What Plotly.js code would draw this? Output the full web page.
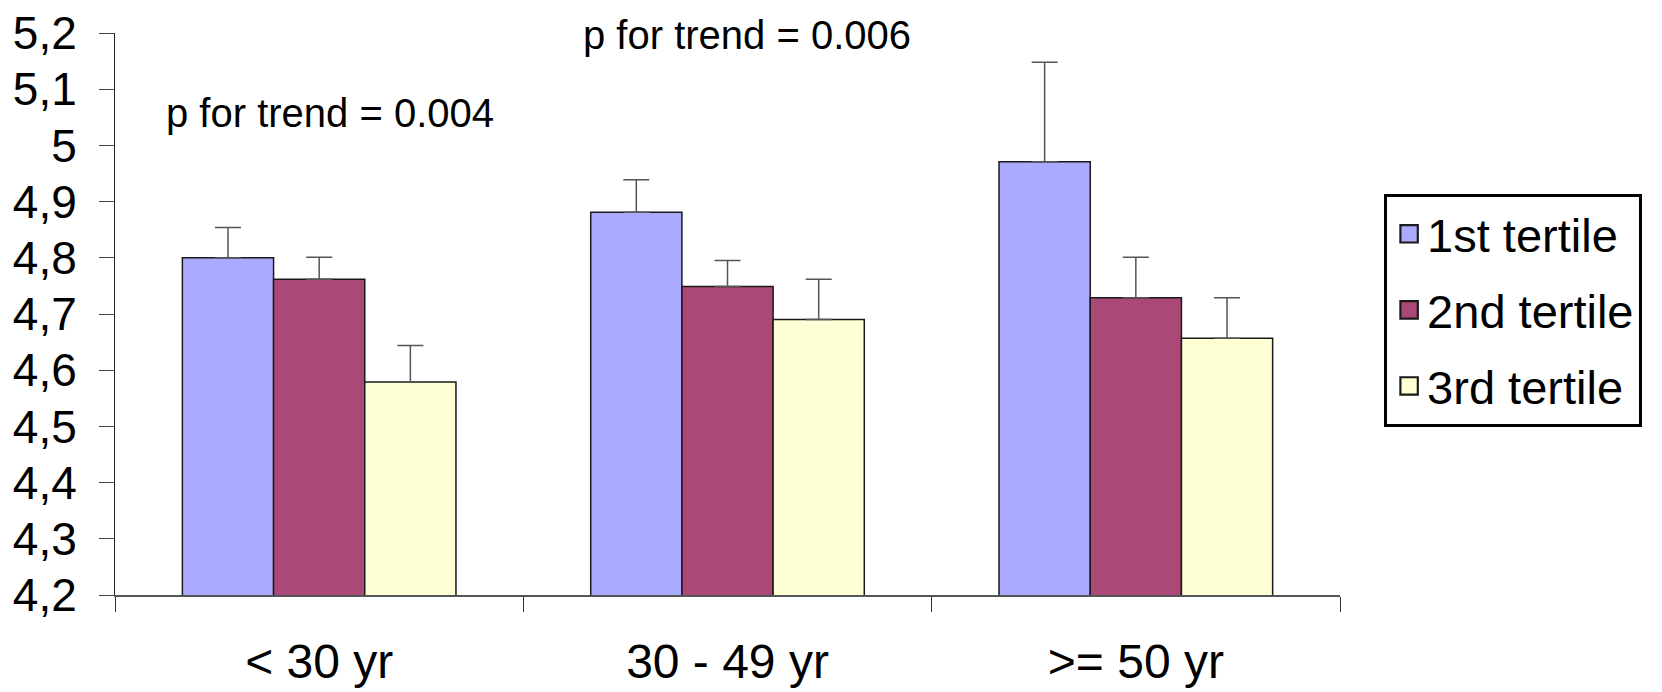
<!DOCTYPE html>
<html>
<head>
<meta charset="utf-8">
<script src="https://cdn.plot.ly/plotly-3.0.1.min.js"></script>
<style>
  html, body { margin: 0; padding: 0; background: #fff; }
  #chart { width: 1662px; height: 692px; }
</style>
</head>
<body>
<div id="chart"></div>
<script>
// ---- data ----
const categories = ['< 30 yr', '30 - 49 yr', '>= 50 yr'];
const seriesNames = ['1st tertile', '2nd tertile', '3rd tertile'];
const tertile1 = [4.800, 4.881, 4.971];
const tertile1Err = [0.054, 0.058, 0.177];
const tertile2 = [4.762, 4.749, 4.729];
const tertile2Err = [0.039, 0.046, 0.072];
const tertile3 = [4.579, 4.690, 4.657];
const tertile3Err = [0.065, 0.072, 0.072];
const yTickVals = [4.2, 4.3, 4.4, 4.5, 4.6, 4.7, 4.8, 4.9, 5.0, 5.1, 5.2];
const yTickText = ['4,2', '4,3', '4,4', '4,5', '4,6', '4,7', '4,8', '4,9', '5', '5,1', '5,2'];
const trendNotes = ['p for trend = 0.004', 'p for trend = 0.006'];

// ---- styling ----
const FONT = 'Liberation Sans, Arial, sans-serif';
const colors = ['#AAAAFF', '#AA4977', '#FFFFD6'];
const values = [tertile1, tertile2, tertile3];
const errs = [tertile1Err, tertile2Err, tertile3Err];

const traces = values.map((v, i) => ({
  type: 'bar',
  name: seriesNames[i],
  legendgroup: 'g' + i,
  x: categories,
  y: v,
  marker: { color: colors[i], line: { color: '#1a1a1a', width: 1.5 } },
  error_y: {
    type: 'data', symmetric: false,
    array: errs[i], arrayminus: errs[i].map(() => 0),
    color: '#555555', thickness: 1.5, width: 13
  },
  hoverinfo: 'x+y'
}));

const layout = {
  width: 1662, height: 692,
  margin: { l: 115, r: 322, t: 33, b: 96.5, pad: 0 },
  paper_bgcolor: '#ffffff', plot_bgcolor: '#ffffff',
  font: { family: FONT, color: '#000000', size: 44 },
  barmode: 'group', bargap: 0.33, bargroupgap: 0,
  showlegend: true,
  legend: {
    x: 1.036, xanchor: 'left', y: 0.714, yanchor: 'top',
    bordercolor: '#000000', borderwidth: 3, bgcolor: '#ffffff',
    font: { family: FONT, size: 47, color: '#000' },
    traceorder: 'grouped', tracegroupgap: 12, itemwidth: 30
  },
  xaxis: {
    type: 'category', showline: true, linecolor: '#555555', linewidth: 1.5,
    ticks: 'outside', tickson: 'boundaries', ticklen: 15, tickcolor: '#333', tickwidth: 1,
    showgrid: false, zeroline: false,
    tickfont: { family: FONT, size: 48, color: '#000' },
    ticklabelstandoff: 24
  },
  yaxis: {
    range: [4.2, 5.2], showline: true, linecolor: '#222222', linewidth: 1,
    tickmode: 'array', tickvals: yTickVals, ticktext: yTickText,
    ticks: 'outside', ticklen: 15, tickcolor: '#444', tickwidth: 1,
    showgrid: false, zeroline: false,
    tickfont: { family: FONT, size: 46, color: '#000' },
    ticklabelstandoff: 13
  },
  annotations: [
    { text: trendNotes[0], xref: 'paper', yref: 'paper', x: 0.1757, y: 0.858,
      xanchor: 'center', yanchor: 'middle', showarrow: false,
      font: { family: FONT, size: 40, color: '#000' } },
    { text: trendNotes[1], xref: 'paper', yref: 'paper', x: 0.516, y: 0.9964,
      xanchor: 'center', yanchor: 'middle', showarrow: false,
      font: { family: FONT, size: 40, color: '#000' } }
  ]
};

Plotly.newPlot('chart', traces, layout, { displayModeBar: false, staticPlot: true }).then(gd => {
  // enlarge the legend colour squares to match the reference size
  gd.querySelectorAll('.legend .legendpoints path').forEach(p => {
    p.setAttribute('transform', 'translate(22,0) scale(1.45)');
  });
});
</script>
</body>
</html>
